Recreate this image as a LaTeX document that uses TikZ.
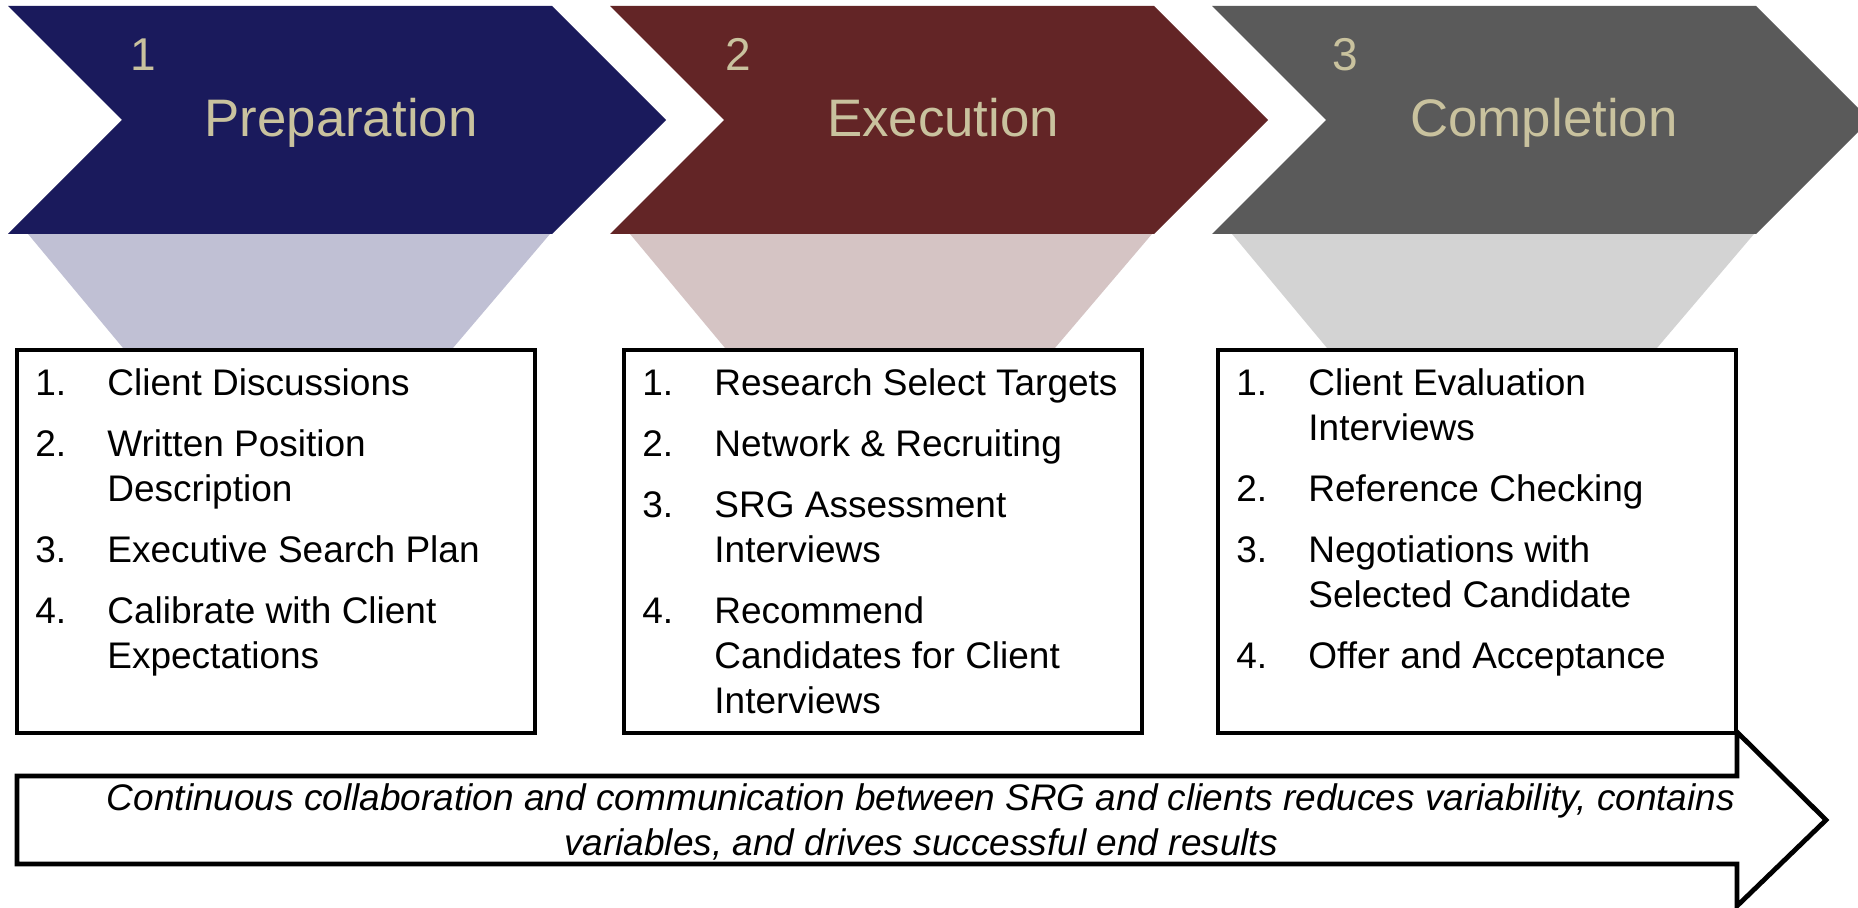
\documentclass[tikz,border=0pt]{standalone}
\usepackage{fontspec}
\setmainfont{Liberation Sans}
\usetikzlibrary{positioning}

\definecolor{prepblue}{HTML}{1A1A5C}
\definecolor{execred}{HTML}{632526}
\definecolor{compgray}{HTML}{5A5A5A}
\definecolor{titletan}{HTML}{C9C29E}
\definecolor{prepfunnel}{HTML}{C0C0D4}
\definecolor{execfunnel}{HTML}{D5C4C4}
\definecolor{compfunnel}{HTML}{D3D3D3}

% numbered lines inside the step boxes
\newcommand{\stepno}[1]{\makebox[36pt][l]{#1}}
\newcommand{\stepcont}{\hspace*{36pt}}

\begin{document}
\begin{tikzpicture}[
  x=0.5pt, y=-0.5pt,
  stagetitle/.style={font=\fontsize{26.4}{30}\selectfont, text=titletan,
                     anchor=base, inner sep=0pt},
  stageno/.style={font=\fontsize{23}{26}\selectfont, text=titletan,
                  anchor=base west, inner sep=0pt},
  stagebox/.style={draw, fill=white, line width=2.2pt, minimum width=259pt,
                   minimum height=191.5pt, anchor=north west,
                   inner sep=0pt, outer sep=0pt},
  steps/.style={font=\fontsize{18.5}{22.5}\selectfont, align=left, inner sep=0pt},
  flownote/.style={font=\fontsize{18.5}{22.5}\selectfont\itshape,
                   align=center, inner sep=0pt},
  outline/.style={draw, fill=white, line width=2.4pt, line join=miter}
]

\useasboundingbox (0,0) rectangle (1858,908);

%% Funnels under the chevrons
\fill[prepfunnel] (28,234) -- (550,234) -- (453,348) -- (123,348) -- cycle;
\fill[execfunnel] (630,234) -- (1152,234) -- (1055,348) -- (725,348) -- cycle;
\fill[compfunnel] (1232,234) -- (1754,234) -- (1657,348) -- (1327,348) -- cycle;

%% Chevrons
\fill[prepblue] (8,6) -- (552,6) -- (666,120) -- (552,234) -- (8,234) -- (122,120) -- cycle;
\fill[execred] (610,6) -- (1154,6) -- (1268,120) -- (1154,234) -- (610,234) -- (724,120) -- cycle;
\fill[compgray] (1212,6) -- (1756,6) -- (1870,120) -- (1756,234) -- (1212,234) -- (1326,120) -- cycle;

\node[stageno] (prepno) at (130,71) {1};
\node[stageno] (execno) at (725,71) {2};
\node[stageno] (compno) at (1332,71) {3};

\node[stagetitle] (prep) at (341,137) {Preparation};
\node[stagetitle] (exec) at (943,137) {Execution};
\node[stagetitle] (comp) at (1544,137) {Completion};

%% Step boxes
\node[stagebox] (prepbox) at (17,350) {};
\node[stagebox] (execbox) at (624,350) {};
\node[stagebox] (compbox) at (1218,350) {};

\node[steps, below right=9.25pt and 9pt of prepbox.north west] (prepsteps) {%
  \stepno{1.}Client Discussions\\[8pt]
  \stepno{2.}Written Position\\
  \stepcont Description\\[8pt]
  \stepno{3.}Executive Search Plan\\[8pt]
  \stepno{4.}Calibrate with Client\\
  \stepcont Expectations};
\node[steps, below right=9.25pt and 9pt of execbox.north west] (execsteps) {%
  \stepno{1.}Research Select Targets\\[8pt]
  \stepno{2.}Network \& Recruiting\\[8pt]
  \stepno{3.}SRG Assessment\\
  \stepcont Interviews\\[8pt]
  \stepno{4.}Recommend\\
  \stepcont Candidates for Client\\
  \stepcont Interviews};
\node[steps, below right=9.25pt and 9pt of compbox.north west] (compsteps) {%
  \stepno{1.}Client Evaluation\\
  \stepcont Interviews\\[8pt]
  \stepno{2.}Reference Checking\\[8pt]
  \stepno{3.}Negotiations with\\
  \stepcont Selected Candidate\\[8pt]
  \stepno{4.}Offer and Acceptance};

%% Collaboration arrow along the bottom
\draw[outline] (17,776) -- (1737,776) -- (1737,732) -- (1826,820)
  -- (1737,906) -- (1737,864) -- (17,864) -- cycle;
\node[flownote, anchor=north] (flow) at (921,783)
  {Continuous collaboration and communication between SRG and clients reduces variability, contains\\
   variables, and drives successful end results};

\end{tikzpicture}
\end{document}
